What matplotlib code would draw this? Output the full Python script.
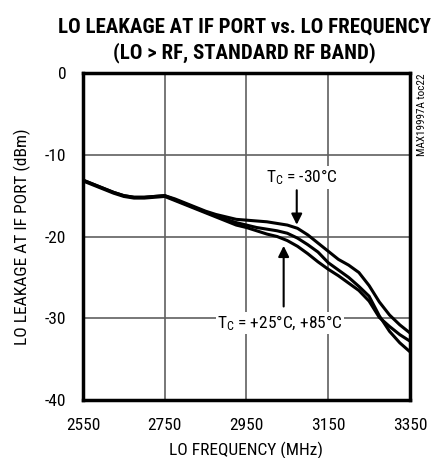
import matplotlib.pyplot as plt
from matplotlib import font_manager

# fuentes estrechas, la primera que exista
nombres = {f.name for f in font_manager.fontManager.ttflist}
fuente = next((n for n in ['Roboto Condensed', 'Archivo Narrow', 'Barlow Condensed']
               if n in nombres), 'DejaVu Sans')
plt.rcParams['font.family'] = [fuente, 'DejaVu Sans']
plt.rcParams['axes.unicode_minus'] = False
plt.rcParams['mathtext.fontset'] = 'custom'
plt.rcParams['mathtext.rm'] = fuente
plt.rcParams['mathtext.it'] = fuente

# LO frequency (MHz), paso de 25 MHz
frec = list(range(2550, 3351, 25))

# LO leakage (dBm) for each case temperature
tc_m30 = [-13.1, -13.6, -14.1, -14.6, -15.0, -15.2, -15.2, -15.1, -15.0, -15.4,
          -15.9, -16.4, -16.9, -17.3, -17.6, -17.9, -18.0, -18.1, -18.2, -18.4,
          -18.6, -19.0, -19.8, -20.8, -21.8, -22.8, -23.5, -24.4, -26.0, -28.0,
          -29.6, -30.8, -31.8]
tc_p25 = [-13.1, -13.6, -14.1, -14.6, -15.0, -15.2, -15.2, -15.1, -15.0, -15.5,
          -16.0, -16.5, -17.0, -17.5, -17.9, -18.3, -18.6, -18.9, -19.1, -19.3,
          -19.6, -20.2, -21.0, -21.9, -23.2, -24.1, -25.0, -26.1, -27.3, -29.7,
          -31.6, -33.0, -34.1]
tc_p85 = [-13.2, -13.7, -14.2, -14.7, -15.1, -15.3, -15.3, -15.2, -15.1, -15.6,
          -16.1, -16.6, -17.1, -17.6, -18.1, -18.6, -18.9, -19.3, -19.7, -20.0,
          -20.5, -21.2, -22.1, -23.1, -24.0, -24.8, -25.7, -26.6, -27.9, -29.9,
          -31.0, -32.0, -32.8]

xticks = [2550, 2750, 2950, 3150, 3350]
yticks = [0, -10, -20, -30, -40]

fig = plt.figure(figsize=(4.32, 4.58), dpi=100)
ax = fig.add_axes([0.192, 0.1266, 0.757, 0.714])

for serie in (tc_m30, tc_p25, tc_p85):
    ax.plot(frec, serie, color='black', lw=2.2, solid_capstyle='butt')

ax.set_xlim(2550, 3350)
ax.set_ylim(-40, 0)
ax.set_xticks(xticks)
ax.set_yticks(yticks)
ax.tick_params(length=0, labelsize=12.5)
ax.tick_params(axis='x', pad=13)
ax.tick_params(axis='y', pad=12)
ax.grid(True, color='#606060', lw=1.2)
for s in ax.spines.values():
    s.set_linewidth(2.5)

ax.set_xlabel('LO FREQUENCY (MHz)', fontsize=12.5, labelpad=6)
ax.set_ylabel('LO LEAKAGE AT IF PORT (dBm)', fontsize=12.5, labelpad=10)

fig.text(0.566, 0.912, 'LO LEAKAGE AT IF PORT vs. LO FREQUENCY\n(LO > RF, STANDARD RF BAND)',
         ha='center', va='center', fontsize=15, fontweight='heavy', linespacing=1.3)

# anotaciones
ax.annotate('', xy=(3073, -18.9), xytext=(3073, -14.0),
            arrowprops=dict(arrowstyle='-|>', color='black', lw=1.5, mutation_scale=16))
ax.text(3085, -12.8, 'T$_{\\rm C}$ = -30°C', ha='center', va='center', fontsize=12.5,
        bbox=dict(facecolor='white', edgecolor='none', pad=1))
ax.annotate('', xy=(3041, -20.8), xytext=(3041, -28.9),
            arrowprops=dict(arrowstyle='-|>', color='black', lw=1.5, mutation_scale=16))
ax.text(3032, -30.6, 'T$_{\\rm C}$ = +25°C, +85°C', ha='center', va='center', fontsize=12.5,
        bbox=dict(facecolor='white', edgecolor='none', pad=1))

fig.text(0.977, 0.84, 'MAX19997A toc22', rotation=90, ha='center', va='top', fontsize=8)

fig.savefig('out.png', dpi=100)
